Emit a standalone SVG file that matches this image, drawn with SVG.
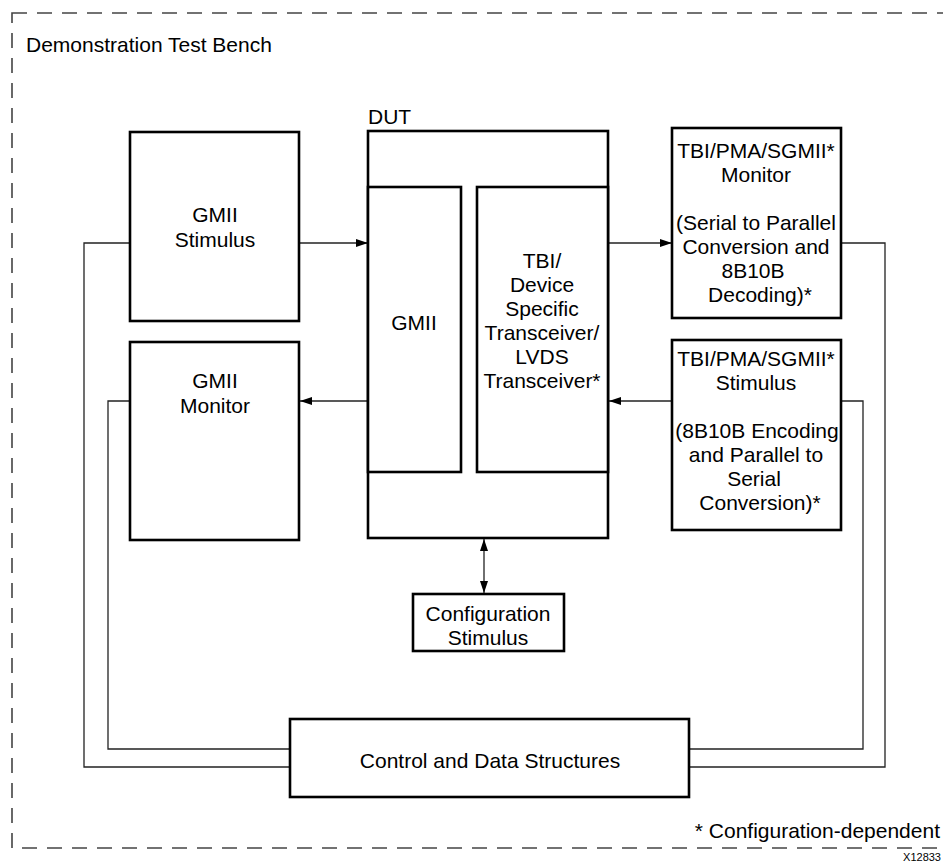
<svg xmlns="http://www.w3.org/2000/svg" width="943" height="863" viewBox="0 0 943 863">
<defs>
<marker id="ah" viewBox="0 0 12 8" refX="12" refY="4" markerWidth="12" markerHeight="8" markerUnits="userSpaceOnUse" orient="auto-start-reverse">
<path d="M0,0 L12,4 L0,8 Z" fill="#000"/>
</marker>
</defs>
<style>
.box{fill:#fff;stroke:#000;stroke-width:2.6}
.t{font-family:"Liberation Sans",Arial,sans-serif;font-size:21px;fill:#000;text-anchor:middle}
.tl{font-family:"Liberation Sans",Arial,sans-serif;font-size:21px;fill:#000}
.c{fill:none;stroke:#222;stroke-width:1.3}
</style>
<rect width="943" height="863" fill="#fff"/>
<g id="bench">
<rect x="12" y="13" width="945" height="835" fill="none" stroke="#444" stroke-width="1.6" stroke-dasharray="15 10"/>
<text class="tl" x="26" y="52">Demonstration Test Bench</text>
<text class="tl" x="940" y="838" text-anchor="end">* Configuration-dependent</text>
<text x="941" y="861" text-anchor="end" font-family="'Liberation Sans',Arial,sans-serif" font-size="11" fill="#000">X12833</text>
</g>
<g id="connectors">
<line class="c" x1="299" y1="243" x2="368" y2="243" marker-end="url(#ah)"/>
<line class="c" x1="368" y1="401" x2="300" y2="401" marker-end="url(#ah)"/>
<line class="c" x1="608" y1="243" x2="672" y2="243" marker-end="url(#ah)"/>
<line class="c" x1="672" y1="401" x2="609" y2="401" marker-end="url(#ah)"/>
<line class="c" x1="484" y1="539" x2="484" y2="593" marker-start="url(#ah)" marker-end="url(#ah)"/>
<polyline class="c" points="130,243 84,243 84,767 290,767"/>
<polyline class="c" points="130,401 108,401 108,749 290,749"/>
<polyline class="c" points="841,243 885,243 885,767 689,767"/>
<polyline class="c" points="841,401 863,401 863,749 689,749"/>
</g>
<g id="gmii-stimulus">
<rect class="box" x="130" y="132" width="169" height="189"/>
<text class="t" x="215" y="222">GMII</text>
<text class="t" x="215" y="247">Stimulus</text>
</g>
<g id="gmii-monitor">
<rect class="box" x="130" y="342" width="169" height="198"/>
<text class="t" x="215" y="388">GMII</text>
<text class="t" x="215" y="413">Monitor</text>
</g>
<g id="dut">
<text class="tl" x="368" y="124">DUT</text>
<rect class="box" x="368" y="131" width="240" height="407"/>
</g>
<g id="dut-gmii">
<rect class="box" x="368" y="187" width="93" height="285"/>
<text class="t" x="414" y="330">GMII</text>
</g>
<g id="dut-tbi">
<rect class="box" x="477" y="187" width="131" height="285"/>
<text class="t" x="542" y="268">TBI/</text>
<text class="t" x="542" y="292">Device</text>
<text class="t" x="542" y="316">Specific</text>
<text class="t" x="542" y="340">Transceiver/</text>
<text class="t" x="542" y="364">LVDS</text>
<text class="t" x="542" y="388">Transceiver*</text>
</g>
<g id="tbi-monitor">
<rect class="box" x="672" y="128" width="169" height="190"/>
<text class="t" x="756" y="158">TBI/PMA/SGMII*</text>
<text class="t" x="756" y="182">Monitor</text>
<text class="t" x="756" y="230">(Serial to Parallel</text>
<text class="t" x="756" y="254">Conversion and</text>
<text class="t" x="753" y="278">8B10B</text>
<text class="t" x="760" y="302">Decoding)*</text>
</g>
<g id="tbi-stimulus">
<rect class="box" x="672" y="340" width="169" height="190"/>
<text class="t" x="756" y="366">TBI/PMA/SGMII*</text>
<text class="t" x="756" y="390">Stimulus</text>
<text class="t" x="757" y="438">(8B10B Encoding</text>
<text class="t" x="756" y="462">and Parallel to</text>
<text class="t" x="754" y="486">Serial</text>
<text class="t" x="760" y="510">Conversion)*</text>
</g>
<g id="config-stimulus">
<rect class="box" x="413" y="594" width="151" height="57"/>
<text class="t" x="488" y="621">Configuration</text>
<text class="t" x="488" y="645">Stimulus</text>
</g>
<g id="control">
<rect class="box" x="290" y="719" width="399" height="78"/>
<text class="t" x="490" y="768">Control and Data Structures</text>
</g>
</svg>
